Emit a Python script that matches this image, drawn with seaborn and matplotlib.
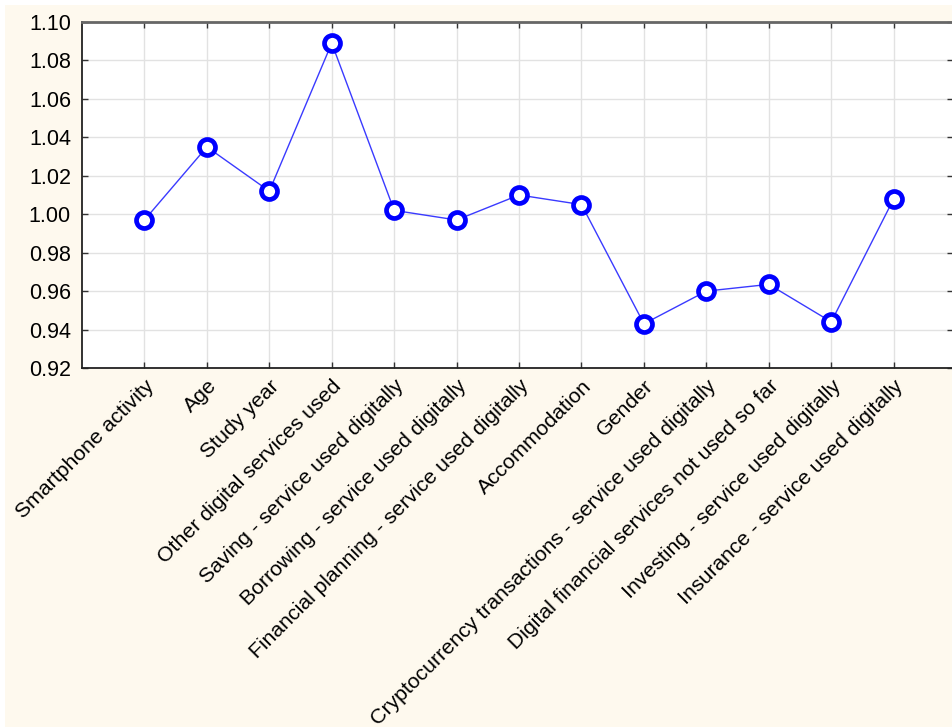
import matplotlib
matplotlib.use("Agg")
import matplotlib.pyplot as plt
import seaborn as sns
import pandas as pd
from matplotlib.patches import Rectangle

categories = [
    "Smartphone activity",
    "Age",
    "Study year",
    "Other digital services used",
    "Saving - service used digitally",
    "Borrowing - service used digitally",
    "Financial planning - service used digitally",
    "Accommodation",
    "Gender",
    "Cryptocurrency transactions - service used digitally",
    "Digital financial services not used so far",
    "Investing - service used digitally",
    "Insurance - service used digitally",
]
values = [0.997, 1.035, 1.012, 1.089, 1.002, 0.997, 1.010, 1.005,
          0.943, 0.960, 0.9635, 0.944, 1.008]
yticks = [0.92, 0.94, 0.96, 0.98, 1.00, 1.02, 1.04, 1.06, 1.08, 1.10]

sns.set_style("white")
plt.rcParams["font.family"] = ["Liberation Sans", "DejaVu Sans"]

W, H = 953, 727
fig = plt.figure(figsize=(W / 100, H / 100), dpi=100, facecolor="white")
fig.patches.append(Rectangle((5 / W, 0), 1 - 5 / W, 1 - 5 / H, transform=fig.transFigure,
                             facecolor="#FEF9EE", edgecolor="none", zorder=-10))

left, right, top, bottom = 82 / W, 1.0, 1 - 22 / H, 1 - 368 / H
ax = fig.add_axes([left, bottom, right - left, top - bottom])
ax.set_zorder(1)
ax.set_facecolor("white")

df = pd.DataFrame({"pos": list(range(len(categories))), "value": values})
sns.lineplot(data=df, x="pos", y="value", ax=ax, sort=False,
             color="#3a3aff", linewidth=1.0,
             marker="o", markersize=11.5, markerfacecolor="white",
             markeredgecolor="#0000ff", markeredgewidth=3.4, zorder=5)

ax.set_xlim(-1.0, 12.95)
ax.set_ylim(0.92, 1.10)
ax.set_yticks(yticks)
ax.set_yticklabels([f"{v:.2f}" for v in yticks], fontsize=15.5, color="black")
ax.set_xticks(range(len(categories)))
ax.set_xticklabels(categories, rotation=45, ha="right", va="top",
                   rotation_mode="anchor", fontsize=15.3, color="black")
ax.set_xlabel("")
ax.set_ylabel("")

ax.grid(True, color="#e2e2e2", linewidth=1.0)
ax.set_axisbelow(True)
ax.tick_params(axis="both", direction="in", length=4, width=1, color="#333333",
               top=True, right=True, bottom=True, left=True)
ax.tick_params(axis="y", pad=8)
ax.tick_params(axis="x", pad=6)
for s in ["left", "bottom"]:
    ax.spines[s].set_color("#222222")
    ax.spines[s].set_linewidth(1.3)
ax.spines["top"].set_color("#666666")
ax.spines["top"].set_linewidth(2.0)
ax.spines["right"].set_color("#666666")
ax.spines["right"].set_linewidth(1.0)
for s in ax.spines.values():
    s.set_visible(True)

fig.savefig("out.png", dpi=100, facecolor=fig.get_facecolor())
